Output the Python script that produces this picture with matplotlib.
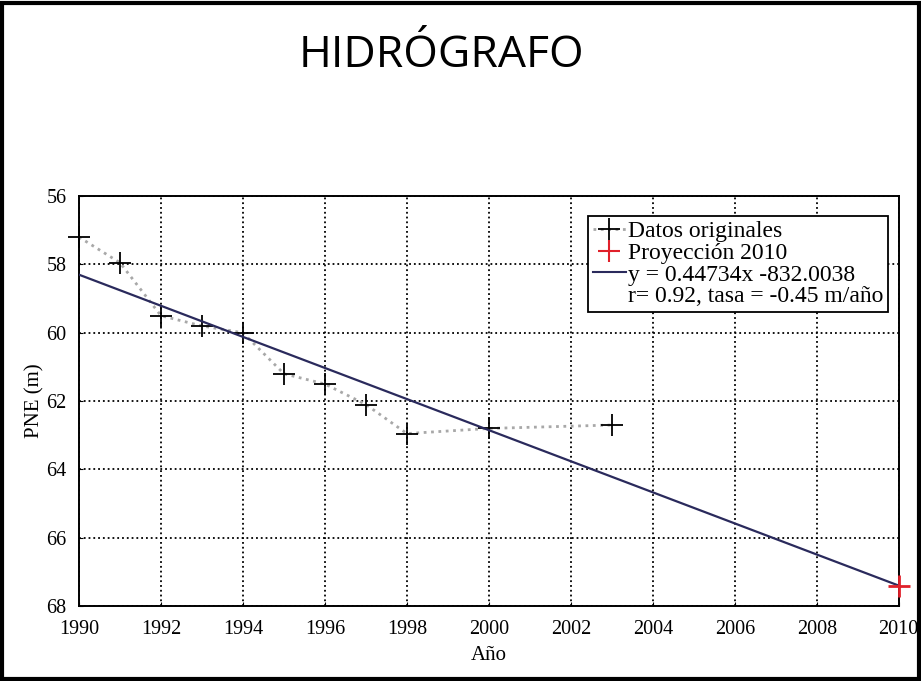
import matplotlib
matplotlib.use("Agg")
import matplotlib.pyplot as plt
from matplotlib.lines import Line2D
from matplotlib.patches import Rectangle

anios = [1990, 1991, 1992, 1993, 1994, 1995, 1996, 1997, 1998, 2000, 2003]
pne = [57.2, 57.95, 59.5, 59.8, 60.0, 61.2, 61.5, 62.1, 62.95, 62.8, 62.7]
anio_proy = [2010]
pne_proy = [67.4]
anios_ajuste = [1990, 2010]
pne_ajuste = [58.3, 67.4]

xticks = list(range(1990, 2011, 2))
yticks = list(range(56, 69, 2))

serif = "Liberation Serif"

fig = plt.figure(figsize=(9.21, 6.81), dpi=100)
ax = fig.add_axes([0.0858, 0.110, 0.890, 0.602])

ax.plot(anios, pne, color="#a8a8a8", linestyle=":", linewidth=2, zorder=2)
ax.plot(anios, pne, linestyle="none", marker="+", markersize=16,
        markeredgewidth=1.3, color="black", zorder=3, clip_on=False)
ax.plot(anio_proy, pne_proy, linestyle="none", marker="+", markersize=16,
        markeredgewidth=2, color="#e0202a", zorder=4, clip_on=False)
ax.plot(anios_ajuste, pne_ajuste, color="#2a2a5c", linewidth=1.6, zorder=3)

ax.set_xlim(1990, 2010)
ax.set_ylim(68, 56)
ax.set_xticks(xticks)
ax.set_yticks(yticks)
ax.grid(True, color="black", linestyle=":", linewidth=1.3)
ax.tick_params(direction="in", length=3, labelsize=14.5)
ax.tick_params(axis="x", pad=10)
ax.tick_params(axis="y", pad=9)
for lab in ax.get_xticklabels() + ax.get_yticklabels():
    lab.set_fontfamily(serif)
for s in ax.spines.values():
    s.set_linewidth(1.4)

ax.set_xlabel("Año", fontfamily=serif, fontsize=15, labelpad=5)
ax.set_ylabel("PNE (m)", fontfamily=serif, fontsize=15, labelpad=1)

handles = [
    Line2D([], [], color="#a8a8a8", marker="+", markersize=16, linestyle=":",
           linewidth=2, markeredgecolor="black", markeredgewidth=1.3),
    Line2D([], [], color="#e0202a", marker="+", markersize=16, linestyle="none",
           markeredgewidth=1.5),
    Line2D([], [], color="#2a2a5c", linewidth=1.5),
    Line2D([], [], color="none"),
]
labels = ["Datos originales", "Proyección 2010", "y = 0.44734x -832.0038",
          "r= 0.92, tasa = -0.45 m/año"]
leg = ax.legend(handles, labels, loc="upper right", bbox_to_anchor=(0.987, 0.951),
                prop={"family": serif, "size": 17}, fancybox=False,
                edgecolor="black", framealpha=1, labelspacing=0.0,
                handlelength=1.4, handletextpad=0.1, borderpad=0.2,
                borderaxespad=0)
leg.get_frame().set_linewidth(1.3)

fig.text(0.479, 0.918, "HIDRÓGRAFO", ha="center", va="center",
         fontfamily="Open Sans", fontsize=32)

fig.patches.append(Rectangle((0.002, 0.003), 0.996, 0.992, transform=fig.transFigure,
                             fill=False, edgecolor="black", linewidth=3))

fig.savefig("out.png", dpi=100)
